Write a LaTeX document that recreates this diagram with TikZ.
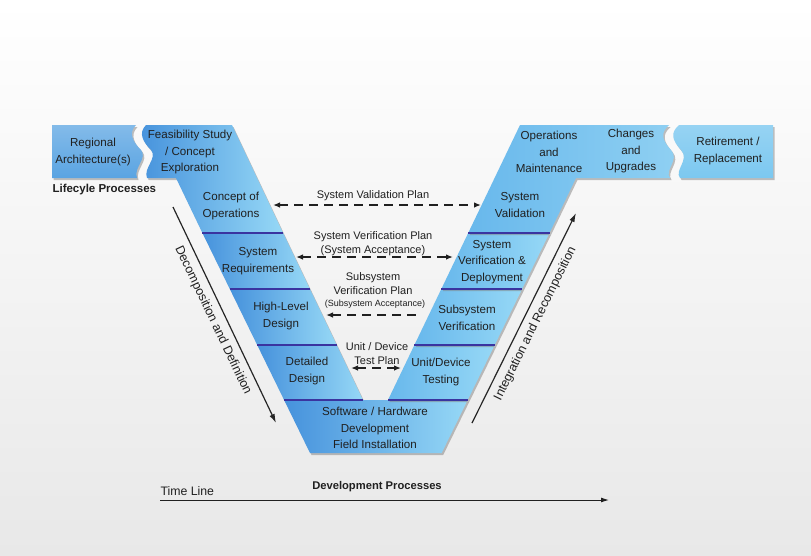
\documentclass[tikz,border=0pt]{standalone}
\usepackage{fontspec}
\setmainfont{Liberation Sans}
\usetikzlibrary{shadows,arrows.meta}
\definecolor{myvdark}{RGB}{70,146,220}
\definecolor{myvlight}{RGB}{150,216,246}
\definecolor{myvmid}{RGB}{104,184,236}
\definecolor{mybox}{RGB}{90,164,226}
\definecolor{myboxlight}{RGB}{124,200,240}
\definecolor{mybar}{RGB}{58,52,160}
\definecolor{myink}{RGB}{32,32,32}

\begin{document}
\begin{tikzpicture}[x=1pt,y=-1pt,
  band/.style={left color=myvdark,right color=myvlight,
    drop shadow={shadow xshift=1.5pt,shadow yshift=-2pt,opacity=0.5}},
  rband/.style={band,left color=myvmid},
  bar/.style={mybar,line width=2.2pt},
  vtext/.style={font=\fontsize{11.6}{16.5}\selectfont,align=center,text=myink},
  sidetext/.style={font=\fontsize{12.5}{14}\selectfont,text=myink},
  plantext/.style={font=\fontsize{11}{14}\selectfont,align=center,text=myink},
  plan/.style={myink,line width=1.3pt,dash pattern=on 9pt off 6pt,
    >={Latex[length=7pt,width=5.5pt]}},
  sidearrow/.style={black!85,line width=1.2pt,-{Latex[length=9pt,width=5.5pt]}}]
  \useasboundingbox (0,0) rectangle (811,555);
  \shade[top color=white,bottom color=black!9] (0,0) rectangle (811,555);

  % plan labels
  \node[plantext] (svplan) at (373,196) {System Validation Plan};
  \node[plantext] (sverplan) at (373,244) {System Verification Plan\\(System Acceptance)};
  \node[plantext] (subplan) at (373,284) {Subsystem\\Verification Plan};
  \node[font=\fontsize{9}{11}\selectfont,text=myink] (subacc) at (375,304) {(Subsystem Acceptance)};
  \node[plantext] (unitplan) at (377,354) {Unit / Device\\Test Plan};

  % top boxes
  \path[band,top color=mybox!75!white,bottom color=mybox] (52,125) -- (136,125)
    .. controls (128,133) and (133,142) .. (141,150)
    .. controls (148,158) and (133,168) .. (137,178) -- (52,178) -- cycle;
  \path[band,top color=myboxlight!80!white,bottom color=myboxlight] (679,125) -- (773,125)
    -- (773,178) -- (680,178)
    .. controls (674,170) and (690,160) .. (681,150)
    .. controls (672,140) and (670,133) .. (679,125) -- cycle;

  % left arm
  \path[band] (146,125) -- (232,125) -- (283.1,233) -- (202.4,233) -- (176,178) -- (147,178)
    .. controls (143,168) and (158,158) .. (151,150)
    .. controls (143,142) and (138,133) .. (146,125) -- cycle;
  \path[band] (202.4,233) -- (283.1,233) -- (309.9,289) -- (229.8,289) -- cycle;
  \path[band] (229.8,289) -- (309.9,289) -- (336.7,345) -- (257.2,345) -- cycle;
  \path[band] (257.2,345) -- (336.7,345) -- (363,400) -- (284.1,400) -- cycle;
  % bottom
  \path[band] (284.1,400) -- (467.7,400) -- (441.7,453) -- (310,453) -- cycle;
  % right arm
  \path[rband] (414.4,345) -- (494.7,345) -- (467.7,400) -- (388,400) -- cycle;
  \path[rband] (441.3,289) -- (522.1,289) -- (494.7,345) -- (414.4,345) -- cycle;
  \path[rband] (468.2,233) -- (549.5,233) -- (522.1,289) -- (441.3,289) -- cycle;
  \path[rband,right color=myboxlight!85!white] (520,125) -- (669,125)
    .. controls (660,133) and (662,140) .. (671,150)
    .. controls (680,160) and (664,170) .. (670,178)
    -- (576,178) -- (549.5,233) -- (468.2,233) -- cycle;

  \foreach \yy/\la/\lb/\ra/\rb in {233/202.4/283.1/468.2/549.5,289/229.8/309.9/441.3/522.1,
      345/257.2/336.7/414.4/494.7,400/284.1/363/388/467.7} {
    \draw[bar] (\la,\yy) -- (\lb,\yy);
    \draw[bar] (\ra,\yy) -- (\rb,\yy);}

  \node[vtext] (regional) at (93,152) {Regional\\Architecture(s)};
  \node[vtext] (feasibility) at (190,152) {Feasibility Study\\/ Concept\\Exploration};
  \node[vtext] (conops) at (231,206) {Concept of\\Operations};
  \node[vtext] (sysreq) at (258,261) {System\\Requirements};
  \node[vtext] (hldesign) at (281,316) {High-Level\\Design};
  \node[vtext] (detdesign) at (307,371) {Detailed\\Design};
  \node[vtext] (swhw) at (375,428) {Software / Hardware\\Development\\Field Installation};
  \node[vtext] (unittest) at (441,372) {Unit/Device\\Testing};
  \node[vtext] (subver) at (467,318) {Subsystem\\Verification};
  \node[vtext] (sysver) at (492,262) {System\\Verification \&\\Deployment};
  \node[vtext] (sysval) at (520,205) {System\\Validation};
  \node[vtext] (opsmaint) at (549,152) {Operations\\and\\Maintenance};
  \node[vtext] (changes) at (631,151) {Changes\\and\\Upgrades};
  \node[vtext] (retire) at (728,151) {Retirement /\\Replacement};

  \node[font=\fontsize{11.5}{13}\selectfont\bfseries,text=myink,anchor=west] (lifecycle) at (49,190) {Lifecyle Processes};
  \node[font=\fontsize{11.2}{13}\selectfont\bfseries,text=myink] (devproc) at (377,487) {Development Processes};
  \node[font=\fontsize{12.3}{14}\selectfont,text=myink,anchor=west] (timeline) at (157,491) {Time Line};

  % plan arrows
  \coordinate (svpleft) at (273,205);   \coordinate (svpright) at (481,205);
  \coordinate (sverleft) at (296,257);  \coordinate (sverright) at (453,257);
  \coordinate (subleft) at (326,315);   \coordinate (subright) at (420,315);
  \coordinate (unitleft) at (351,368);  \coordinate (unitright) at (401,368);
  \draw[plan,<->] (svpleft) -- (svpright);
  \draw[plan,<->] (sverleft) -- (sverright);
  \draw[plan,<-] (subleft) -- (subright);
  \draw[plan,<->] (unitleft) -- (unitright);

  % side arrows and time line
  \coordinate (decstart) at (173,207);  \coordinate (decend) at (276,423);
  \coordinate (intstart) at (472,423);  \coordinate (intend) at (576,213);
  \coordinate (tlstart) at (160,500);   \coordinate (tlend) at (609,500);
  \draw[sidearrow] (decstart) -- node[sloped,below=3pt,sidetext] {Decomposition and Definition} (decend);
  \draw[sidearrow] (intstart) -- node[sloped,below=3pt,sidetext] {Integration and Recomposition} (intend);
  \draw[myink,line width=1pt,-{Latex[length=8pt,width=5pt]}] (tlstart) -- (tlend);
\end{tikzpicture}
\end{document}
